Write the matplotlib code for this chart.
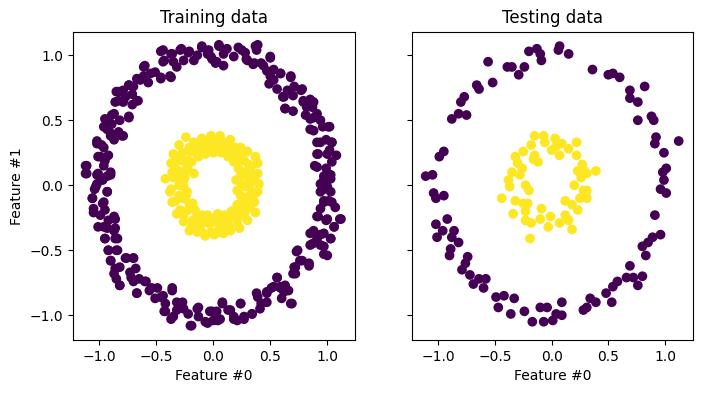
import matplotlib.pyplot as plt
import numpy as np

# points (feature #0, feature #1)
train_outer = np.array([
    (-0.46, 1.03), (-0.37, 1.01), (-0.29, 1.04), (-0.21, 1.03), (-0.14, 1.00), (-0.10, 1.06),
    (-0.05, 1.01), (0.02, 0.94), (0.05, 1.08), (0.09, 1.01), (0.18, 0.99), (0.25, 1.04),
    (0.30, 0.96), (0.39, 1.08), (0.36, 0.94), (0.50, 0.99), (-0.43, 0.96), (-0.32, 0.91),
    (-0.37, 0.83), (-0.46, 0.82), (-0.17, 0.96), (-0.02, 0.99), (-0.55, 0.86), (-0.61, 0.91),
    (-0.64, 0.81), (-0.70, 0.76), (-0.74, 0.77), (-0.77, 0.68), (-0.83, 0.72), (-0.83, 0.65),
    (-0.71, 0.62), (-0.67, 0.65), (-0.74, 0.53), (-0.87, 0.55), (-0.93, 0.50), (-0.89, 0.47),
    (-0.96, 0.45), (-0.80, 0.38), (-0.90, 0.40), (-1.02, 0.32), (-0.96, 0.29), (-0.87, 0.35),
    (-0.99, 0.22), (-0.92, 0.23), (-0.96, 0.15), (-1.12, 0.15), (-1.12, 0.09), (-1.02, 0.08),
    (-0.90, 0.08), (-0.97, 0.04), (-1.03, -0.01), (-0.93, -0.05), (-1.06, -0.10), (-0.97, -0.14),
    (-1.05, -0.21), (-0.99, -0.23), (-0.92, -0.27), (-0.86, -0.26), (-0.96, -0.32), (-0.87, -0.35),
    (-0.95, -0.41), (-0.84, -0.41), (-0.92, -0.50), (-0.84, -0.50), (-0.90, -0.58), (-0.77, -0.56),
    (-0.70, -0.56), (-0.86, -0.64), (-0.82, -0.77), (-0.68, -0.64), (-0.72, -0.71), (-0.65, -0.72),
    (-0.59, -0.74), (-0.67, -0.83), (-0.56, -0.81), (-0.49, -0.79), (-0.46, -0.86), (-0.42, -0.91),
    (-0.36, -0.81), (-0.43, -0.97), (-0.37, -1.03), (-0.32, -0.96), (-0.27, -0.90), (-0.20, -1.08),
    (-0.14, -0.95), (-0.13, -1.01), (-0.05, -1.06), (-0.01, -0.97), (0.04, -1.04), (0.08, -0.91),
    (0.15, -0.96), (0.18, -1.03), (0.24, -0.91), (0.27, -1.01), (0.34, -0.99), (0.39, -0.86),
    (0.42, -0.91), (0.47, -0.82), (0.53, -0.78), (0.56, -0.71), (0.59, -0.78), (0.68, -0.91),
    (0.62, -0.82), (0.71, -0.63), (0.72, -0.68), (0.74, -0.50), (0.78, -0.58), (0.84, -0.62),
    (0.85, -0.37), (0.87, -0.45), (0.91, -0.41), (0.97, -0.37), (0.97, -0.53), (1.03, -0.41),
    (0.97, -0.47), (0.91, -0.24), (0.94, -0.18), (0.99, -0.27), (1.06, -0.32), (1.12, -0.26),
    (0.97, -0.12), (1.04, -0.13), (0.94, -0.05), (1.00, -0.01), (1.03, 0.08), (0.97, 0.04),
    (0.91, 0.14), (0.99, 0.13), (0.92, 0.24), (1.02, 0.27), (1.08, 0.23), (0.91, 0.33),
    (0.99, 0.35), (1.04, 0.33), (0.88, 0.42), (0.96, 0.45), (1.02, 0.45), (0.85, 0.51),
    (0.91, 0.55), (0.82, 0.60), (0.88, 0.64), (0.77, 0.73), (0.79, 0.65), (0.68, 0.83),
    (0.71, 0.76), (0.63, 0.59), (0.61, 0.68), (0.53, 0.81), (0.59, 0.86), (0.47, 0.88),
    (0.42, 0.94), (0.65, 0.73),
    # upper left
    (-0.44, 1.04), (-0.36, 1.01), (-0.28, 1.05), (-0.22, 1.02), (-0.10, 1.07), (-0.04, 1.04),
    (-0.01, 0.97), (-0.35, 0.95), (-0.26, 0.96), (-0.44, 0.95), (-0.38, 0.84), (-0.46, 0.83),
    (-0.60, 0.92), (-0.61, 0.84), (-0.67, 0.82), (-0.57, 0.79), (-0.51, 0.87), (-0.74, 0.77),
    (-0.71, 0.70), (-0.66, 0.65), (-0.79, 0.73), (-0.85, 0.72), (-0.86, 0.64), (-0.79, 0.64),
    (-0.74, 0.52), (-0.82, 0.50), (-0.89, 0.54), (-0.95, 0.51), (-0.93, 0.43), (-0.90, 0.38),
    (-0.83, 0.41), (-0.79, 0.38), (-1.02, 0.34), (-0.98, 0.31), (-1.01, 0.22), (-0.95, 0.19),
    (-1.11, 0.15), (-1.11, 0.09), (-1.01, 0.09), (-0.93, 0.07), (-0.90, 0.10), (-1.02, 0.01),
    # upper right
    (0.05, 1.07), (0.12, 1.05), (0.03, 0.95), (0.09, 0.92), (0.22, 1.06), (0.28, 1.02),
    (0.37, 1.07), (0.38, 1.04), (0.29, 0.97), (0.35, 0.93), (0.50, 0.98), (0.44, 0.92),
    (0.53, 0.89), (0.50, 0.84), (0.59, 0.86), (0.68, 0.84), (0.49, 0.78), (0.56, 0.74),
    (0.62, 0.68), (0.70, 0.69), (0.63, 0.59), (0.70, 0.57), (0.78, 0.74), (0.79, 0.64),
    (0.85, 0.66), (0.87, 0.60), (0.81, 0.54), (0.88, 0.52), (0.94, 0.50), (1.01, 0.45),
    (0.85, 0.43), (0.94, 0.33), (1.04, 0.33), (0.91, 0.24), (1.00, 0.24), (1.04, 0.18),
    (0.89, 0.15), (0.97, 0.07), (1.03, 0.05), (0.94, 0.01),
    # lower left
    (-1.04, -0.03), (-0.93, -0.05), (-1.06, -0.10), (-0.96, -0.13), (-1.05, -0.18), (-0.95, -0.19),
    (-0.87, -0.24), (-1.01, -0.32), (-0.93, -0.33), (-0.86, -0.33), (-0.95, -0.41), (-0.86, -0.41),
    (-0.92, -0.50), (-0.85, -0.50), (-0.90, -0.58), (-0.82, -0.63), (-0.76, -0.56), (-0.70, -0.56),
    (-0.87, -0.68), (-0.73, -0.67), (-0.85, -0.72), (-0.82, -0.77), (-0.70, -0.74), (-0.67, -0.83),
    (-0.60, -0.74), (-0.54, -0.79), (-0.51, -0.87), (-0.44, -0.85), (-0.36, -0.79), (-0.32, -0.90),
    (-0.42, -0.97), (-0.35, -1.01), (-0.26, -0.95), (-0.22, -0.99), (-0.13, -0.94), (-0.19, -1.08),
    (-0.07, -1.05), (-0.03, -0.97),
    # lower right
    (0.97, -0.03), (1.03, -0.05), (0.97, -0.13), (1.01, -0.12), (1.07, -0.17), (0.92, -0.24),
    (1.00, -0.26), (1.11, -0.26), (1.06, -0.32), (0.88, -0.35), (0.94, -0.38), (1.03, -0.41),
    (0.85, -0.46), (0.94, -0.46), (1.00, -0.54), (0.73, -0.51), (0.76, -0.58), (0.84, -0.60),
    (0.72, -0.63), (0.70, -0.68), (0.56, -0.71), (0.63, -0.77), (0.51, -0.79), (0.59, -0.79),
    (0.66, -0.81), (0.69, -0.91), (0.60, -0.87), (0.38, -0.83), (0.47, -0.83), (0.47, -0.90),
    (0.41, -0.95), (0.24, -0.91), (0.08, -0.90), (0.13, -0.96), (0.03, -0.97), (0.18, -1.01),
    (0.27, -1.03), (0.34, -0.99), (0.00, -1.04), (0.06, -1.03), (0.21, -1.04),
])

train_inner = np.array([
    (-0.24, 0.37), (-0.17, 0.33), (-0.10, 0.36), (-0.02, 0.38), (0.06, 0.38), (0.15, 0.35),
    (0.24, 0.29), (0.30, 0.26), (0.37, 0.22), (0.39, 0.17), (-0.30, 0.31), (-0.35, 0.24),
    (-0.37, 0.17), (-0.27, 0.19), (-0.20, 0.26), (-0.11, 0.28), (0.01, 0.28), (0.11, 0.26),
    (0.20, 0.23), (0.27, 0.19), (0.33, 0.14), (0.39, 0.09), (0.40, 0.01), (0.39, -0.05),
    (0.36, -0.13), (0.37, -0.21), (0.30, 0.06), (0.28, -0.01), (0.30, -0.09), (0.25, -0.17),
    (0.20, 0.04), (0.21, -0.04), (0.30, -0.27), (0.23, -0.33), (0.15, -0.35), (0.09, -0.37),
    (0.01, -0.38), (-0.07, -0.39), (-0.14, -0.36), (-0.21, -0.35), (0.06, -0.31), (-0.02, -0.29),
    (-0.11, -0.28), (0.12, -0.27), (0.21, -0.24), (-0.18, -0.27), (-0.26, -0.23), (-0.05, -0.23),
    (0.04, -0.22), (-0.42, 0.05), (-0.37, -0.03), (-0.33, -0.12), (-0.29, -0.19), (-0.32, 0.12),
    (-0.26, 0.04), (-0.23, -0.05), (-0.18, -0.14), (-0.23, 0.14), (-0.17, 0.09), (-0.30, 0.00),
    (-0.35, 0.06), (-0.25, -0.10), (0.33, 0.02), (0.34, -0.05), (0.25, 0.10), (0.00, 0.32),
    (-0.06, 0.31), (0.10, 0.31), (-0.12, -0.32), (0.05, -0.34), (0.28, -0.20), (-0.29, 0.22),
    (-0.15, 0.30),
    (0.25, 0.00), (0.24, 0.07), (0.22, 0.13), (0.18, 0.18), (0.13, 0.22), (0.07, 0.25),
    (0.00, 0.25), (-0.07, 0.24), (-0.13, 0.22), (-0.19, 0.18), (-0.22, 0.12), (-0.25, 0.06),
    (-0.26, -0.01), (-0.24, -0.08), (-0.21, -0.14), (-0.16, -0.19), (-0.10, -0.23), (-0.03, -0.25),
    (0.04, -0.26), (0.10, -0.23), (0.16, -0.20), (0.21, -0.15), (0.24, -0.08),
    (0.33, 0.08), (0.31, 0.16), (0.26, 0.24), (0.19, 0.29), (0.11, 0.33), (0.03, 0.35),
    (-0.05, 0.34), (-0.13, 0.32), (-0.21, 0.29), (-0.27, 0.25), (-0.33, 0.18), (-0.36, 0.10),
    (-0.38, -0.05), (-0.36, -0.13), (-0.32, -0.22), (-0.26, -0.28), (-0.19, -0.32), (-0.10, -0.36),
    (-0.02, -0.36), (0.06, -0.36), (0.14, -0.32), (0.21, -0.29), (0.27, -0.24), (0.32, -0.17),
    (0.35, -0.08), (0.36, 0.04),
    (0.29, 0.00), (0.27, 0.10), (0.22, 0.19), (0.15, 0.25), (0.05, 0.29), (-0.05, 0.29),
    (-0.15, 0.25), (-0.22, 0.19), (-0.27, 0.10), (-0.29, 0.00), (-0.27, -0.10), (-0.22, -0.19),
    (-0.15, -0.25), (-0.05, -0.29), (0.05, -0.29), (0.15, -0.25), (0.22, -0.19), (0.27, -0.10),
    (-0.31, 0.06), (-0.30, -0.08), (-0.12, -0.30), (0.10, -0.30), (0.30, -0.12), (0.31, 0.10),
    (-0.10, 0.30), (0.12, 0.30),
])

test_outer = np.array([
    (-0.20, 1.03), (-0.13, 1.05), (-0.10, 1.01), (-0.09, 0.96), (0.07, 1.07), (0.06, 1.04),
    (0.15, 1.01), (-0.56, 0.95), (-0.39, 0.91), (-0.35, 0.91), (-0.29, 0.85), (-0.24, 0.91),
    (-0.52, 0.79), (-0.66, 0.77), (-0.64, 0.74), (-0.77, 0.68), (-0.80, 0.64), (-0.82, 0.55),
    (-0.75, 0.54), (-0.88, 0.51), (0.36, 0.89), (0.50, 0.85), (0.54, 0.86), (0.60, 0.83),
    (0.69, 0.73), (0.69, 0.67), (0.82, 0.76), (0.76, 0.64), (0.76, 0.50), (0.88, 0.53),
    (0.90, 0.50), (0.92, 0.37), (0.91, 0.32), (1.12, 0.34), (0.99, 0.25), (-0.95, 0.26),
    (-0.99, 0.22), (-1.11, 0.07), (-1.05, 0.08), (-1.04, -0.06), (-1.02, -0.10), (-0.95, -0.08),
    (-0.92, -0.26), (-1.02, -0.30), (-0.96, -0.35), (-1.01, -0.40), (-0.86, -0.35), (-0.88, -0.40),
    (-0.82, -0.44), (-0.89, -0.49), (-0.90, -0.54), (-0.74, -0.55), (-0.76, -0.60), (-0.79, -0.65),
    (-0.72, -0.69), (-0.69, -0.76), (-0.64, -0.72), (-0.58, -0.72), (-0.60, -0.79), (-0.49, -0.86),
    (-0.42, -0.85), (-0.47, -0.94), (-0.33, -0.87), (-0.36, -0.99), (-0.24, -0.97), (-0.17, -1.05),
    (-0.10, -0.94), (-0.07, -1.05), (-0.04, -0.94), (0.01, -1.04), (0.04, -0.99), (0.09, -1.00),
    (0.09, -0.90), (0.28, -0.96), (0.31, -0.94), (0.34, -0.87), (0.39, -0.90), (0.48, -0.83),
    (0.53, -0.90), (0.54, -0.78), (0.58, -0.74), (0.66, -0.71), (0.69, -0.62), (0.72, -0.71),
    (0.76, -0.77), (0.80, -0.70), (0.80, -0.47), (0.85, -0.44), (0.83, -0.54), (0.89, -0.40),
    (0.96, -0.38), (0.91, -0.23), (0.98, 0.10), (1.01, 0.13), (0.99, 0.04), (0.96, -0.03),
    (1.01, -0.06),
])

test_inner = np.array([
    (-0.15, 0.38), (-0.07, 0.38), (-0.06, 0.33), (0.03, 0.36), (0.09, 0.32), (0.15, 0.28),
    (0.22, 0.33), (0.22, 0.23), (0.00, 0.27), (0.07, 0.23), (-0.18, 0.31), (-0.25, 0.26),
    (-0.32, 0.22), (-0.15, 0.23), (-0.12, 0.18), (-0.26, 0.13), (-0.28, 0.08), (-0.38, 0.04),
    (-0.37, -0.01), (-0.23, 0.00), (-0.20, -0.04), (-0.44, -0.10), (-0.32, -0.12), (-0.25, -0.14),
    (-0.21, -0.14), (-0.34, -0.22), (-0.23, -0.20), (-0.23, -0.27), (-0.18, -0.29), (-0.09, -0.18),
    (-0.10, -0.26), (-0.03, -0.32), (-0.01, -0.24), (0.07, -0.29), (0.12, -0.23), (0.18, -0.34),
    (0.15, -0.27), (0.12, -0.12), (0.18, -0.15), (0.23, -0.19), (0.25, -0.10), (0.31, -0.10),
    (0.28, -0.04), (0.20, 0.00), (0.31, -0.04), (0.26, 0.06), (0.31, 0.09), (0.23, 0.11),
    (0.29, 0.11), (0.39, 0.11), (-0.19, -0.41), (-0.16, 0.20), (-0.30, 0.17), (0.27, 0.16),
    (-0.35, 0.10), (0.04, 0.30),
])

X_train = np.vstack([train_outer, train_inner])
y_train = np.r_[np.zeros(len(train_outer)), np.ones(len(train_inner))]
X_test = np.vstack([test_outer, test_inner])
y_test = np.r_[np.zeros(len(test_outer)), np.ones(len(test_inner))]

fig = plt.figure(figsize=(7.02, 3.93), dpi=100)
train_ax = fig.add_axes([0.104, 0.135, 0.402, 0.784])
test_ax = fig.add_axes([0.587, 0.135, 0.400, 0.784], sharex=train_ax, sharey=train_ax)

train_ax.scatter(X_train[:, 0], X_train[:, 1], c=y_train, cmap="viridis")
train_ax.set_ylabel("Feature #1")
train_ax.set_xlabel("Feature #0")
train_ax.set_title("Training data")

test_ax.scatter(X_test[:, 0], X_test[:, 1], c=y_test, cmap="viridis")
test_ax.set_xlabel("Feature #0")
test_ax.set_title("Testing data")
test_ax.tick_params(labelleft=False)

train_ax.set_xlim(-1.23, 1.245)
train_ax.set_ylim(-1.19, 1.18)
train_ax.set_xticks([-1.0, -0.5, 0.0, 0.5, 1.0])
train_ax.set_yticks([-1.0, -0.5, 0.0, 0.5, 1.0])

fig.savefig("out.png", dpi=100)
